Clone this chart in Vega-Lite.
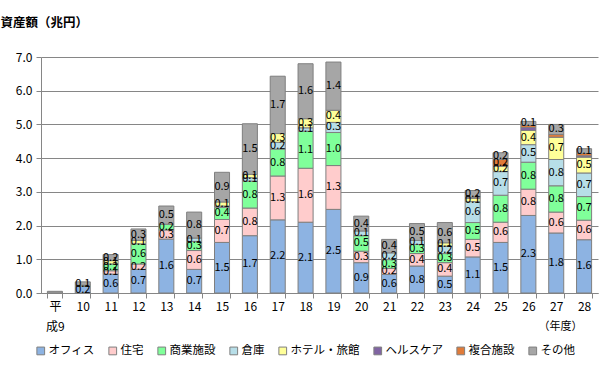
{
  "$schema": "https://vega.github.io/schema/vega-lite/v6.json",
  "autosize": {"type": "none"},
  "width": 557,
  "height": 236,
  "padding": {"left": 41, "top": 57, "right": 2, "bottom": 87},
  "config": {
    "font": "Noto Sans CJK JP",
    "view": {"stroke": null},
    "axis": {"labelFont": "Noto Sans CJK JP", "titleFont": "Noto Sans CJK JP"},
    "axisY": {
      "titleAngle": 0,
      "titleAlign": "left",
      "titleBaseline": "middle",
      "titleX": -41,
      "titleY": -35,
      "titleFontSize": 12.5,
      "titleFontWeight": "bold",
      "titleColor": "#000000",
      "labelFontSize": 12,
      "labelColor": "#000000",
      "labelPadding": 4,
      "labelOverlap": false,
      "labelFlush": false,
      "gridColor": "#868686",
      "gridWidth": 1,
      "domainColor": "#868686",
      "tickColor": "#868686",
      "tickSize": 5
    },
    "legend": {"labelFont": "Noto Sans CJK JP"}
  },
  "data": {
    "values": [
      {"year": "9", "type": "その他", "v": 0.05},
      {"year": "10", "type": "オフィス", "v": 0.2},
      {"year": "10", "type": "商業施設", "v": 0.03},
      {"year": "10", "type": "その他", "v": 0.1},
      {"year": "11", "type": "オフィス", "v": 0.56},
      {"year": "11", "type": "住宅", "v": 0.1},
      {"year": "11", "type": "商業施設", "v": 0.2},
      {"year": "11", "type": "ホテル・旅館", "v": 0.1},
      {"year": "11", "type": "その他", "v": 0.18},
      {"year": "12", "type": "オフィス", "v": 0.7},
      {"year": "12", "type": "住宅", "v": 0.16},
      {"year": "12", "type": "商業施設", "v": 0.6},
      {"year": "12", "type": "ホテル・旅館", "v": 0.1},
      {"year": "12", "type": "その他", "v": 0.34},
      {"year": "13", "type": "オフィス", "v": 1.6},
      {"year": "13", "type": "住宅", "v": 0.27},
      {"year": "13", "type": "商業施設", "v": 0.17},
      {"year": "13", "type": "その他", "v": 0.54},
      {"year": "14", "type": "オフィス", "v": 0.7},
      {"year": "14", "type": "住宅", "v": 0.56},
      {"year": "14", "type": "商業施設", "v": 0.27},
      {"year": "14", "type": "倉庫", "v": 0.1},
      {"year": "14", "type": "その他", "v": 0.77},
      {"year": "15", "type": "オフィス", "v": 1.5},
      {"year": "15", "type": "住宅", "v": 0.68},
      {"year": "15", "type": "商業施設", "v": 0.36},
      {"year": "15", "type": "倉庫", "v": 0.04},
      {"year": "15", "type": "ホテル・旅館", "v": 0.12},
      {"year": "15", "type": "その他", "v": 0.88},
      {"year": "16", "type": "オフィス", "v": 1.7},
      {"year": "16", "type": "住宅", "v": 0.82},
      {"year": "16", "type": "商業施設", "v": 0.8},
      {"year": "16", "type": "倉庫", "v": 0.1},
      {"year": "16", "type": "ホテル・旅館", "v": 0.1},
      {"year": "16", "type": "その他", "v": 1.5},
      {"year": "17", "type": "オフィス", "v": 2.17},
      {"year": "17", "type": "住宅", "v": 1.3},
      {"year": "17", "type": "商業施設", "v": 0.8},
      {"year": "17", "type": "倉庫", "v": 0.2},
      {"year": "17", "type": "ホテル・旅館", "v": 0.26},
      {"year": "17", "type": "その他", "v": 1.7},
      {"year": "18", "type": "オフィス", "v": 2.1},
      {"year": "18", "type": "住宅", "v": 1.6},
      {"year": "18", "type": "商業施設", "v": 1.1},
      {"year": "18", "type": "倉庫", "v": 0.1},
      {"year": "18", "type": "ホテル・旅館", "v": 0.27},
      {"year": "18", "type": "その他", "v": 1.63},
      {"year": "19", "type": "オフィス", "v": 2.48},
      {"year": "19", "type": "住宅", "v": 1.3},
      {"year": "19", "type": "商業施設", "v": 0.98},
      {"year": "19", "type": "倉庫", "v": 0.3},
      {"year": "19", "type": "ホテル・旅館", "v": 0.36},
      {"year": "19", "type": "その他", "v": 1.43},
      {"year": "20", "type": "オフィス", "v": 0.9},
      {"year": "20", "type": "住宅", "v": 0.34},
      {"year": "20", "type": "商業施設", "v": 0.46},
      {"year": "20", "type": "倉庫", "v": 0.14},
      {"year": "20", "type": "その他", "v": 0.44},
      {"year": "21", "type": "オフィス", "v": 0.55},
      {"year": "21", "type": "住宅", "v": 0.18},
      {"year": "21", "type": "商業施設", "v": 0.26},
      {"year": "21", "type": "倉庫", "v": 0.2},
      {"year": "21", "type": "その他", "v": 0.4},
      {"year": "22", "type": "オフィス", "v": 0.8},
      {"year": "22", "type": "住宅", "v": 0.37},
      {"year": "22", "type": "商業施設", "v": 0.27},
      {"year": "22", "type": "倉庫", "v": 0.12},
      {"year": "22", "type": "その他", "v": 0.5},
      {"year": "23", "type": "オフィス", "v": 0.5},
      {"year": "23", "type": "住宅", "v": 0.4},
      {"year": "23", "type": "商業施設", "v": 0.27},
      {"year": "23", "type": "倉庫", "v": 0.22},
      {"year": "23", "type": "ホテル・旅館", "v": 0.1},
      {"year": "23", "type": "その他", "v": 0.6},
      {"year": "24", "type": "オフィス", "v": 1.07},
      {"year": "24", "type": "住宅", "v": 0.52},
      {"year": "24", "type": "商業施設", "v": 0.5},
      {"year": "24", "type": "倉庫", "v": 0.62},
      {"year": "24", "type": "ホテル・旅館", "v": 0.1},
      {"year": "24", "type": "複合施設", "v": 0.03},
      {"year": "24", "type": "その他", "v": 0.2},
      {"year": "25", "type": "オフィス", "v": 1.5},
      {"year": "25", "type": "住宅", "v": 0.6},
      {"year": "25", "type": "商業施設", "v": 0.8},
      {"year": "25", "type": "倉庫", "v": 0.7},
      {"year": "25", "type": "ホテル・旅館", "v": 0.16},
      {"year": "25", "type": "複合施設", "v": 0.2},
      {"year": "25", "type": "その他", "v": 0.2},
      {"year": "26", "type": "オフィス", "v": 2.3},
      {"year": "26", "type": "住宅", "v": 0.78},
      {"year": "26", "type": "商業施設", "v": 0.8},
      {"year": "26", "type": "倉庫", "v": 0.52},
      {"year": "26", "type": "ホテル・旅館", "v": 0.42},
      {"year": "26", "type": "ヘルスケア", "v": 0.09},
      {"year": "26", "type": "複合施設", "v": 0.06},
      {"year": "26", "type": "その他", "v": 0.12},
      {"year": "27", "type": "オフィス", "v": 1.78},
      {"year": "27", "type": "住宅", "v": 0.62},
      {"year": "27", "type": "商業施設", "v": 0.78},
      {"year": "27", "type": "倉庫", "v": 0.78},
      {"year": "27", "type": "ホテル・旅館", "v": 0.66},
      {"year": "27", "type": "複合施設", "v": 0.08},
      {"year": "27", "type": "その他", "v": 0.3},
      {"year": "28", "type": "オフィス", "v": 1.58},
      {"year": "28", "type": "住宅", "v": 0.58},
      {"year": "28", "type": "商業施設", "v": 0.7},
      {"year": "28", "type": "倉庫", "v": 0.7},
      {"year": "28", "type": "ホテル・旅館", "v": 0.47},
      {"year": "28", "type": "ヘルスケア", "v": 0.04},
      {"year": "28", "type": "複合施設", "v": 0.07},
      {"year": "28", "type": "その他", "v": 0.14}
    ]
  },
  "transform": [
    {"calculate": "indexof(['オフィス','住宅','商業施設','倉庫','ホテル・旅館','ヘルスケア','複合施設','その他'], datum.type)", "as": "idx"},
    {"stack": "v", "groupby": ["year"], "sort": [{"field": "idx", "order": "ascending"}], "as": ["v0", "v1"]},
    {"calculate": "(datum.v0 + datum.v1) / 2", "as": "mid"}
  ],
  "encoding": {
    "x": {
      "field": "year",
      "type": "nominal",
      "sort": ["9","10","11","12","13","14","15","16","17","18","19","20","21","22","23","24","25","26","27","28"],
      "scale": {"paddingInner": 0.46, "paddingOuter": 0.23},
      "axis": {
        "title": "（年度）",
        "titleFontSize": 11,
        "titleFontWeight": "normal",
        "titleColor": "#000000",
        "titleAnchor": "end",
        "titleAlign": "right",
        "titleBaseline": "middle",
        "titleX": 541,
        "titleY": 33,
        "labelAngle": 0,
        "labelFontSize": 12,
        "labelColor": "#000000",
        "labelPadding": 3,
        "labelLineHeight": 20,
        "labelBaseline": "top",
        "labelExpr": "datum.value == '9' ? ['平', '成9'] : datum.value",
        "domainColor": "#868686",
        "tickColor": "#868686",
        "tickBand": "extent",
        "tickSize": 5
      }
    }
  },
  "layer": [
    {
      "mark": {"type": "bar", "stroke": "#7f7f7f", "strokeWidth": 1},
      "encoding": {
        "y": {
          "field": "v0",
          "type": "quantitative",
          "scale": {"domain": [0, 7], "nice": false},
          "axis": {"title": "資産額（兆円）", "values": [0, 1, 2, 3, 4, 5, 6, 7], "format": ".1f"}
        },
        "y2": {"field": "v1"},
        "color": {
          "field": "type",
          "type": "nominal",
          "scale": {
            "domain": ["オフィス","住宅","商業施設","倉庫","ホテル・旅館","ヘルスケア","複合施設","その他"],
            "range": ["#8db3e2","#ffcccc","#80ff9a","#b7dee8","#ffff99","#8064a2","#e07b39","#a6a6a6"]
          },
          "legend": {
            "title": null,
            "orient": "none",
            "legendX": -6,
            "legendY": 288,
            "direction": "horizontal",
            "columns": 8,
            "symbolType": "square",
            "symbolSize": 60,
            "symbolStrokeColor": "#7f7f7f",
            "symbolStrokeWidth": 1,
            "labelFontSize": 11.5,
            "labelColor": "#000000",
            "labelOffset": 2,
            "columnPadding": 11
          }
        }
      }
    },
    {
      "transform": [{"filter": "datum.v >= 0.095"}],
      "mark": {"type": "text", "fontSize": 11, "color": "#000000", "baseline": "middle"},
      "encoding": {
        "y": {
          "field": "mid",
          "type": "quantitative",
          "axis": {"title": "資産額（兆円）", "values": [0, 1, 2, 3, 4, 5, 6, 7], "format": ".1f"}
        },
        "text": {"field": "v", "type": "quantitative", "format": ".1f"}
      }
    }
  ]
}
